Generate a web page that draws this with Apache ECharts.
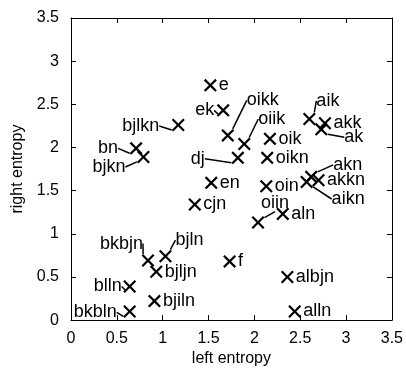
<!DOCTYPE html>
<html>
<head>
<meta charset="utf-8">
<script src="https://cdn.jsdelivr.net/npm/echarts@6/dist/echarts.min.js"></script>
<style>html,body{margin:0;padding:0;background:#fff;}#c{width:406px;height:372px;}</style>
</head>
<body>
<div id="c"></div>
<script>
// ---- data ----
const names = ['e','ek','bjlkn','oikk','oiik','oik','dj','oikn','bn','bjkn','en','oin','cjn','oiin','aln','aik','akk','ak','akn','akkn','aikn','bkbjn','bjln','bjljn','f','albjn','blln','bjiln','bkbln','alln'];
const leftEntropy  = [1.52,1.66,1.17,1.71,1.89,2.17,1.82,2.14,0.71,0.79,1.53,2.13,1.35,2.04,2.31,2.60,2.77,2.73,2.62,2.70,2.57,0.84,1.03,0.93,1.73,2.36,0.64,0.91,0.64,2.44];
const rightEntropy = [2.72,2.43,2.26,2.14,2.04,2.10,1.88,1.88,1.99,1.89,1.59,1.55,1.34,1.13,1.23,2.33,2.28,2.21,1.66,1.62,1.60,0.69,0.74,0.56,0.68,0.50,0.39,0.22,0.10,0.10];
const axisMin = 0, axisMax = 3.5, axisStep = 0.5;
const xName = 'left entropy', yName = 'right entropy';

// ---- label placement for points with leader lines (pixel offsets from point centre) ----
const leaders = {
  bjlkn: [-19, 1, 'right'],
  bn:    [-18, 0, 'right'],
  bjkn:  [-18, 10, 'right'],
  ek:    [-9, 0, 'right'],
  oikk:  [19, -35, 'left'],
  oiik:  [14, -25, 'left'],
  dj:    [-33, 1, 'right'],
  aik:   [7, -18, 'left'],
  ak:    [23, 8, 'left'],
  akn:   [22, -12, 'left'],
  aikn:  [25, 17, 'left'],
  oiin:  [3, -20, 'left'],
  bkbjn: [-5, -17, 'right'],
  bjln:  [10, -16, 'left'],
  blln:  [-8, 0, 'right'],
  bkbln: [-13, 1, 'right']
};

const font = "'Liberation Sans', Arial, Helvetica, sans-serif";
const xSym = 'path://M12,0 L50,38 L88,0 L100,12 L62,50 L100,88 L88,100 L50,62 L12,100 L0,88 L38,50 L0,12 Z';

const points = names.map((n, i) => {
  const d = { name: n, value: [leftEntropy[i], rightEntropy[i]] };
  if (leaders[n]) d.labelLine = { show: true };
  return d;
});

const axisCommon = {
  type: 'value', min: axisMin, max: axisMax, interval: axisStep,
  splitLine: { show: false },
  axisLine: { show: true, onZero: false, lineStyle: { color: '#000', width: 1 } },
  axisTick: { show: true, inside: true, length: 5, lineStyle: { color: '#000' } }
};

const chart = echarts.init(document.getElementById('c'), null, { renderer: 'canvas' });
chart.setOption({
  backgroundColor: '#fff',
  animation: false,
  grid: { left: 71, right: 14, top: 18, bottom: 48, containLabel: false },
  xAxis: [
    Object.assign({}, axisCommon, {
      position: 'bottom', name: xName, nameLocation: 'middle', nameGap: 26,
      nameTextStyle: { color: '#000', fontFamily: font, fontSize: 16 },
      axisLabel: { color: '#000', fontFamily: font, fontSize: 16, margin: 10 }
    }),
    Object.assign({}, axisCommon, { position: 'top', axisLabel: { show: false } })
  ],
  yAxis: [
    Object.assign({}, axisCommon, {
      position: 'left', name: yName, nameLocation: 'middle', nameGap: 42, nameRotate: 90,
      nameTextStyle: { color: '#000', fontFamily: font, fontSize: 16 },
      axisLabel: { color: '#000', fontFamily: font, fontSize: 16, margin: 12 }
    }),
    Object.assign({}, axisCommon, { position: 'right', axisLabel: { show: false } })
  ],
  series: [{
    type: 'scatter',
    xAxisIndex: 0, yAxisIndex: 0,
    symbol: xSym,
    symbolSize: 13,
    itemStyle: { color: '#000', opacity: 1 },
    data: points,
    label: {
      show: true, position: 'right', distance: 2,
      formatter: '{b}', color: '#000', fontFamily: font, fontSize: 18
    },
    labelLine: { show: false, lineStyle: { color: '#000', width: 1.5 } },
    labelLayout: function (p) {
      const o = leaders[names[p.dataIndex]];
      if (!o) return {};
      const cx = p.rect.x + p.rect.width / 2;
      const cy = p.rect.y + p.rect.height / 2;
      return { x: cx + o[0], y: cy + o[1], align: o[2], verticalAlign: 'middle' };
    }
  }]
});
</script>
</body>
</html>
